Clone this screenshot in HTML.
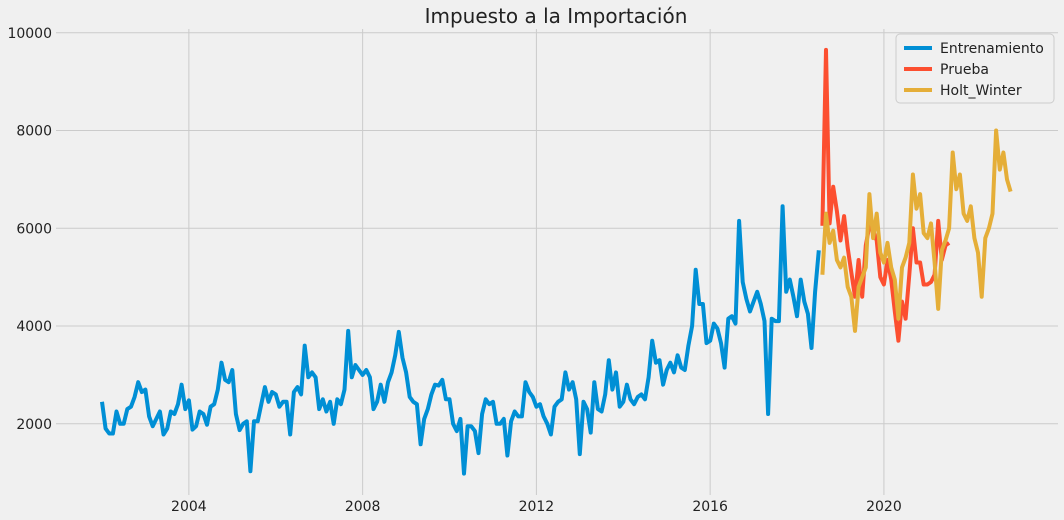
<!DOCTYPE html>
<html><head><meta charset="utf-8"><style>
body{margin:0;background:#f0f0f0;}
svg{display:block;font-family:"DejaVu Sans","Liberation Sans",sans-serif;}
</style></head><body>
<svg id="chart" width="1064" height="520" xmlns="http://www.w3.org/2000/svg">
<rect width="1064" height="520" fill="#f0f0f0"/>
<text x="556" y="23" text-anchor="middle" font-size="20" fill="#222">Impuesto a la Importación</text>
<g id="grid"></g>
<g id="series"></g>
<g>
<rect x="896" y="34" width="158" height="69" rx="4" fill="#f0f0f0" stroke="#cccccc"/>
<line x1="904" y1="48" x2="932" y2="48" stroke="#008fd5" stroke-width="4"/>
<text x="940" y="53" font-size="14" fill="#222">Entrenamiento</text>
<line x1="904" y1="69" x2="932" y2="69" stroke="#fc4f30" stroke-width="4"/>
<text x="940" y="74" font-size="14" fill="#222">Prueba</text>
<line x1="904" y1="90" x2="932" y2="90" stroke="#e5ae38" stroke-width="4"/>
<text x="940" y="95" font-size="14" fill="#222">Holt_Winter</text>
</g>
</svg>
<script>
const yTicks=[2000,4000,6000,8000,10000];
const xTickYears=[2004,2008,2012,2016,2020];
const trainStart=[2002,1];
const train=[2450,1900,1800,1800,2250,2000,2000,2300,2350,2550,2850,2650,
2700,2150,1950,2100,2250,1780,1900,2250,2200,2400,2800,2300,
2480,1880,1950,2250,2200,1980,2350,2400,2700,3250,2900,2850,
3100,2200,1870,2000,2050,1030,2050,2050,2400,2750,2450,2650,
2600,2350,2450,2450,1780,2650,2750,2600,3600,2950,3050,2950,2300,
2500,2250,2450,2000,2500,2400,2700,3900,2950,3200,3100,3000,
3100,2950,2300,2450,2800,2450,2850,3050,3400,3880,3350,3050,
2550,2450,2400,1580,2100,2300,2600,2800,2780,2900,2500,2500,
2000,1850,2100,980,1950,1950,1850,1400,2200,2500,2400,2450,
2000,2000,2100,1350,2050,2250,2150,2150,2850,2650,2550,2350,
2400,2150,2000,1780,2350,2450,2500,3050,2700,2850,2500,1380,
2450,2300,1820,2850,2300,2250,2600,3300,2700,3050,2350,2450,
2800,2500,2400,2550,2600,2500,2950,3700,3250,3300,2800,3100,
3250,3050,3400,3150,3100,3600,4000,5150,4450,4450,3650,3700,
4050,3950,3650,3150,4150,4200,4050,6150,4900,4550,4300,4500,
4700,4450,4100,2200,4150,4100,4100,6450,4700,4950,4600,4200,
4950,4500,4250,3550,4700,5550];
const test=[6050,9650,6100,6850,6350,5750,6250,5600,5100,4600,5350,4600,5650,6050,5950,5750,5000,4850,5350,4950,4300,3700,4500,4150,5050,6000,5300,5300,4850,4850,4900,5050,6150,5350,5650,5700];
const holt=[5050,6300,5700,5950,5350,5200,5400,4800,4600,3900,4800,5000,5200,6700,5800,6300,5500,5300,5700,5200,4950,4150,5200,5400,5700,7100,6400,6700,5900,5800,6100,5300,4350,5550,5750,6000,7550,6800,7100,6300,6150,6450,5800,5500,4600,5800,6000,6300,8000,7200,7550,7000,6750];
const testStartIdx=train.length;
const holtStartIdx=train.length;

const NS="http://www.w3.org/2000/svg";
const month0=102, monthW=3.62;
function xIdx(i){return month0+i*monthW;}
function xYear(y){return xIdx((y-trainStart[0])*12+(1-trainStart[1]));}
function yv(v){return 521.5-v*0.04887;}
const grid=document.getElementById('grid');
const series=document.getElementById('series');
yTicks.forEach(t=>{
  const l=document.createElementNS(NS,'line');
  l.setAttribute('x1',56);l.setAttribute('x2',1058);
  l.setAttribute('y1',yv(t));l.setAttribute('y2',yv(t));
  l.setAttribute('stroke','#cbcbcb');l.setAttribute('stroke-width','1');
  
  
  grid.appendChild(l);
  const tx=document.createElementNS(NS,'text');
  tx.setAttribute('x',52);tx.setAttribute('y',yv(t)+5);
  tx.setAttribute('text-anchor','end');tx.setAttribute('font-size','14');tx.setAttribute('fill','#222');
  tx.textContent=t;
  
  
  grid.appendChild(tx);
});
xTickYears.forEach(y=>{
  const x=xYear(y);
  const l=document.createElementNS(NS,'line');
  l.setAttribute('x1',x);l.setAttribute('x2',x);
  l.setAttribute('y1',29);l.setAttribute('y2',495);
  l.setAttribute('stroke','#cbcbcb');l.setAttribute('stroke-width','1');
  
  
  grid.appendChild(l);
  const tx=document.createElementNS(NS,'text');
  tx.setAttribute('x',x);tx.setAttribute('y',511);
  tx.setAttribute('text-anchor','middle');tx.setAttribute('font-size','14');tx.setAttribute('fill','#222');
  tx.textContent=y;
  
  
  grid.appendChild(tx);
});
function drawLine(vals,start,color,name){
  const p=document.createElementNS(NS,'polyline');
  p.setAttribute('points',vals.map((v,i)=>xIdx(start+i).toFixed(1)+','+yv(v).toFixed(1)).join(' '));
  p.setAttribute('fill','none');p.setAttribute('stroke',color);p.setAttribute('stroke-width','4');
  p.setAttribute('stroke-linejoin','round');
  
  
  series.appendChild(p);
}
drawLine(train,0,'#008fd5','line-entrenamiento');
drawLine(test,testStartIdx,'#fc4f30','line-prueba');
drawLine(holt,holtStartIdx,'#e5ae38','line-holt-winter');
</script>
</body></html>
